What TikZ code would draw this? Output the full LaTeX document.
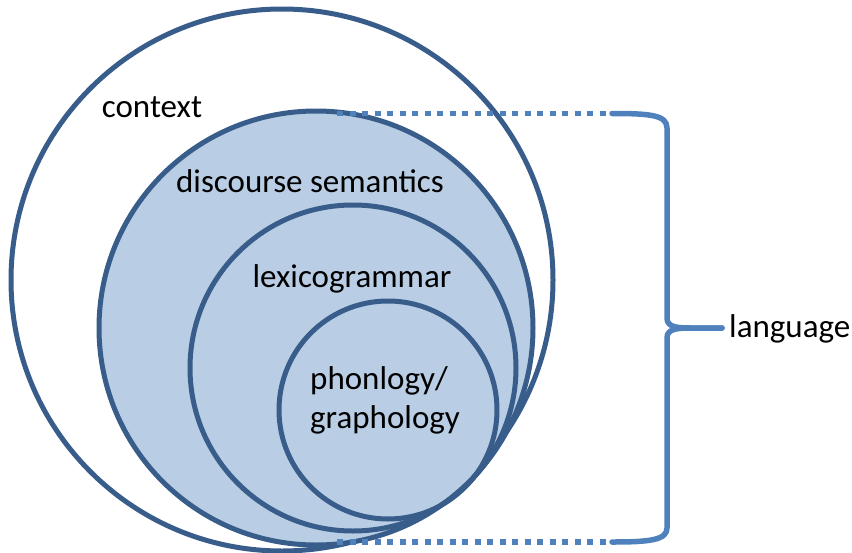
\documentclass[tikz,border=0pt]{standalone}
\usepackage{fontspec}
\setmainfont{Carlito}
\definecolor{ringline}{HTML}{385D8A}
\definecolor{ringfill}{HTML}{B9CDE5}
\definecolor{bracecol}{HTML}{4F81BD}
\begin{document}
\begin{tikzpicture}[x=1pt,y=-1pt,
  ring/.style={draw=ringline, line width=5pt},
  lbl/.style={font=\fontsize{33}{40}\selectfont, anchor=base, inner sep=0pt, text=black},
  dotline/.style={draw=bracecol, line width=5.5pt, dash pattern=on 6pt off 6.5pt},
  bracestroke/.style={draw=bracecol, line width=5.5pt, line cap=round, line join=round}]
\useasboundingbox (0,0) rectangle (852,552);

% nested strata
\draw[ring, fill=white] (282,280) circle [radius=271pt];
\draw[ring, fill=ringfill] (316,328) circle [radius=217pt];
\draw[ring] (353,368) circle [radius=163pt];
\draw[ring] (388,410) circle [radius=109pt];

% labels
\node[lbl] (context) at (152,117) {context};
\node[lbl] (discsem) at (310,192) {discourse semantics};
\node[lbl] (lexgram) at (352,287) {lexicogrammar};
\node[lbl, anchor=base west] (phon) at (310,389.5) {phonlogy/};
\node[lbl, anchor=base west] (graph) at (310,428) {graphology};
\node[lbl, anchor=base west] (lang) at (729,337) {language};

% projection lines and brace
\coordinate (topL) at (337,113.5);
\coordinate (topR) at (612,113.5);
\coordinate (botL) at (337,542);
\coordinate (botR) at (612,542);
\coordinate (tip) at (722,328);
\draw[dotline] (topL) -- (topR);
\draw[dotline] (botL) -- (botR);
\draw[bracestroke] (topR) .. controls (650,113.5) and (667,115) .. (667,128)
  -- (667,318) .. controls (667,326) and (674,328) .. (690,328) -- (tip);
\draw[bracestroke] (tip) -- (690,328) .. controls (674,328) and (667,330) .. (667,338)
  -- (667,528) .. controls (667,540) and (650,542) .. (botR);
\end{tikzpicture}
\end{document}
